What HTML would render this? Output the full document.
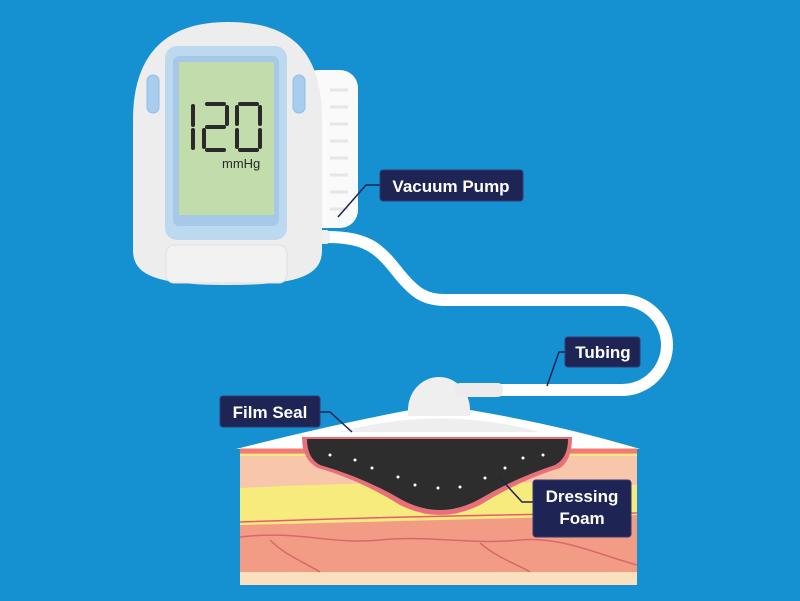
<!DOCTYPE html>
<html><head><meta charset="utf-8"><style>
html,body{margin:0;padding:0;background:#1591d2;}
svg{display:block}
text{font-family:"Liberation Sans",sans-serif;font-weight:bold;fill:#fff}
</style></head><body>
<svg width="800" height="601" viewBox="0 0 800 601" xmlns="http://www.w3.org/2000/svg">
<rect width="800" height="601" fill="#1591d2"/>
<!-- tubing -->
<path d="M326 237 C370 237 380 250 400 275 C415 293 425 300 445 300 L622 300 A45 45 0 0 1 622 390 L495 390" fill="none" stroke="#fff" stroke-width="12"/>
<!-- pump back box -->
<rect x="300" y="70" width="58" height="158" rx="18" fill="#fafafa"/>
<g stroke="#e6e6e6" stroke-width="3">
<line x1="330" y1="90" x2="348" y2="90"/><line x1="330" y1="107" x2="348" y2="107"/><line x1="330" y1="124" x2="348" y2="124"/><line x1="330" y1="141" x2="348" y2="141"/><line x1="330" y1="158" x2="348" y2="158"/><line x1="330" y1="175" x2="348" y2="175"/><line x1="330" y1="192" x2="348" y2="192"/><line x1="330" y1="209" x2="348" y2="209"/>
</g>
<rect x="316" y="230" width="14" height="14" rx="4" fill="#f0f0f0"/>
<!-- pump body -->
<path d="M133 120 C133 50 170 22 228 22 C290 22 322 50 322 120 L322 250 C322 275 300 285 228 285 C155 285 133 275 133 250 Z" fill="#ededed"/>
<rect x="165" y="46" width="122" height="194" rx="12" fill="#bcd9ef"/>
<rect x="173" y="56" width="106" height="170" rx="6" fill="#a7c9e8"/>
<rect x="179" y="62" width="95" height="153" fill="#c2dcab"/>
<rect x="147" y="75" width="12" height="38" rx="6" fill="#a8cdef" stroke="#8ebde6"/>
<rect x="293" y="75" width="12" height="38" rx="6" fill="#a8cdef" stroke="#8ebde6"/>
<rect x="166" y="245" width="121" height="38" rx="8" fill="#f2f2f2" stroke="#e0e0e0"/>
<!-- 7-seg 120 -->
<g stroke="#2a2a2a" stroke-width="4" stroke-linecap="round" fill="none">
<line x1="193" y1="106" x2="193" y2="125"/><line x1="193" y1="130" x2="193" y2="148"/>
<line x1="207" y1="104" x2="224" y2="104"/><line x1="227" y1="107" x2="227" y2="124"/><line x1="207" y1="127" x2="224" y2="127"/><line x1="204" y1="130" x2="204" y2="147"/><line x1="207" y1="150" x2="224" y2="150"/>
<line x1="240" y1="104" x2="257" y2="104"/><line x1="237" y1="107" x2="237" y2="124"/><line x1="260" y1="107" x2="260" y2="124"/><line x1="237" y1="130" x2="237" y2="147"/><line x1="260" y1="130" x2="260" y2="147"/><line x1="240" y1="150" x2="257" y2="150"/>
</g>
<text x="222" y="168" font-size="13" style="font-weight:normal;fill:#2a2a2a">mmHg</text>
<!-- film -->
<path d="M236 449 Q330 425 410 410 L470 410 Q560 425 640 449 Z" fill="#fff"/>
<path d="M340 432 Q440 405 540 432 Z" fill="#eeeeee"/>
<!-- skin -->
<rect x="240" y="449" width="397" height="136" fill="#f39c85"/>
<rect x="240" y="572" width="397" height="13" fill="#fbe0bd"/>
<path d="M240 449 L637 449 L637 515 Q440 520 240 525 Z" fill="#f6eb7c"/>
<path d="M240 449 L637 449 L637 485 Q440 478 240 488 Z" fill="#f8c6aa"/>
<path d="M240 451 L637 451" stroke="#f07d70" stroke-width="5"/>
<path d="M240 455 L637 455" stroke="#f6eb7c" stroke-width="2"/>
<path d="M240 522 Q440 515 637 513" stroke="#e85a72" stroke-width="1.5" fill="none"/>
<g stroke="#d66a6a" stroke-width="1.5" fill="none">
<path d="M240 537 C300 530 330 545 380 540 C430 535 470 545 520 540 C560 536 600 555 637 565"/>
<path d="M270 540 C285 555 300 560 320 572"/><path d="M480 543 C500 560 520 565 530 572"/>
</g>
<!-- foam -->
<path d="M302 437 L572 437 Q572 460 560 468 Q520 480 480 505 Q440 525 400 505 Q360 480 318 468 Q302 460 302 437 Z" fill="#e8707a"/>
<path d="M307 439 L568 439 Q568 458 555 465 Q515 478 478 500 Q440 520 402 500 Q365 478 320 465 Q307 458 307 439 Z" fill="#2d2d2d"/>
<g fill="#fff"><circle cx="330" cy="455" r="1.5"/><circle cx="355" cy="460" r="1.5"/><circle cx="372" cy="468" r="1.5"/><circle cx="398" cy="477" r="1.5"/><circle cx="415" cy="485" r="1.5"/><circle cx="438" cy="488" r="1.5"/><circle cx="460" cy="487" r="1.5"/><circle cx="485" cy="478" r="1.5"/><circle cx="505" cy="468" r="1.5"/><circle cx="523" cy="458" r="1.5"/><circle cx="543" cy="455" r="1.5"/></g>
<!-- dome -->
<path d="M408 410 A31 33 0 0 1 470 410 L470 416 L408 416 Z" fill="#efefef"/>
<rect x="455" y="383" width="48" height="14" rx="5" fill="#ececec"/>
<!-- labels -->
<g stroke="#1e2453" stroke-width="1.5" fill="none">
<polyline points="380,185 366,185 338,217"/>
<polyline points="565,352 559,352 547,386"/>
<polyline points="320,412 330,412 352,432"/>
<polyline points="533,502 522,502 500,478"/>
</g>
<g fill="#1e2453" stroke="#343a70" stroke-width="1">
<rect x="380" y="170" width="143" height="31" rx="3"/>
<rect x="565" y="337" width="75" height="30" rx="3"/>
<rect x="220" y="396" width="100" height="31" rx="3"/>
<rect x="533" y="480" width="98" height="57" rx="3"/>
</g>
<text x="451" y="192" font-size="17" text-anchor="middle">Vacuum Pump</text>
<text x="603" y="358" font-size="17" text-anchor="middle">Tubing</text>
<text x="270" y="418" font-size="17" text-anchor="middle">Film Seal</text>
<text x="582" y="502" font-size="17" text-anchor="middle">Dressing</text>
<text x="582" y="524" font-size="17" text-anchor="middle">Foam</text>
</svg>
</body></html>
